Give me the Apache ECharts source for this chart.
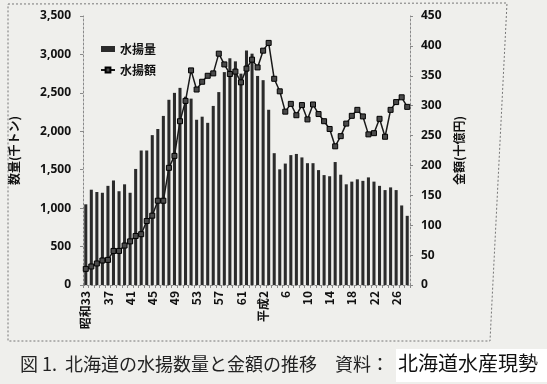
<!DOCTYPE html>
<html>
<head>
<meta charset="utf-8">
<script src="https://cdn.jsdelivr.net/npm/echarts/dist/echarts.min.js"></script>
<style>
html,body{margin:0;padding:0;background:#efefec;}
#chart{width:547px;height:384px;}
</style>
</head>
<body>
<div id="chart"></div>
<script>
// 年 (昭和33=1958 〜 平成28=2016)
const categories = ['昭和33','34','35','36','37','38','39','40','41','42','43','44','45','46','47','48','49','50','51','52','53','54','55','56','57','58','59','60','61','62','63','平成元','平成2','3','4','5','6','7','8','9','10','11','12','13','14','15','16','17','18','19','20','21','22','23','24','25','26','27','28'];
// 水揚量 (千トン)
const volume = [1050,1240,1210,1200,1290,1360,1220,1310,1200,1510,1750,1750,1950,2030,2200,2410,2500,2565,2450,2425,2150,2190,2110,2330,2510,2770,2950,2910,2750,3050,3010,2720,2665,2280,1715,1505,1580,1690,1705,1660,1585,1585,1495,1430,1415,1600,1435,1310,1345,1375,1355,1400,1345,1290,1235,1270,1235,1035,900];
// 水揚額 (十億円)
const amount = [27,31,36,41,42,57,57,66,73,82,85,107,116,141,141,196,216,274,308,359,327,340,350,354,387,369,353,357,339,362,377,364,392,405,345,324,290,303,284,301,277,302,286,274,261,232,249,270,283,293,282,252,254,278,248,293,306,314,298];
// 目盛
const leftTicks = {min:0, max:3500, interval:500};
const rightTicks = {min:0, max:450, interval:50};
const seriesNames = ['水揚量','水揚額'];
const leftName = '数量(千トン)';
const rightName = '金額(十億円)';
const captionMain = '図 1.  北海道の水揚数量と金額の推移　資料：';
const captionSource = '北海道水産現勢';

const chart = echarts.init(document.getElementById('chart'));
const axisCommon = {
  axisLine:{show:true, lineStyle:{color:'#8a8a8a', width:1, type:[2,2]}},
  axisTick:{show:true, lineStyle:{color:'#8a8a8a'}, length:3},
  splitLine:{show:false}
};
const boldFont = "'Noto Sans CJK JP','Noto Sans',sans-serif";
chart.setOption({
  backgroundColor:'#efefec',
  animation:false,
  grid:{left:80, right:137, top:16, bottom:99},
  legend:{
    orient:'vertical', left:95, top:38, itemWidth:14, itemHeight:6, itemGap:9,
    textStyle:{fontFamily:boldFont, fontWeight:'bold', fontSize:12, color:'#111'},
    data:[{name:seriesNames[0], icon:'rect'}, {name:seriesNames[1]}]
  },
  xAxis:{
    type:'category', data:categories, boundaryGap:true,
    ...axisCommon,
    axisTick:{show:true, interval:0, length:3, lineStyle:{color:'#8a8a8a'}},
    axisLabel:{interval:3, rotate:90, margin:6, fontFamily:boldFont, fontWeight:'bold', fontSize:12, color:'#111'}
  },
  yAxis:[
    {type:'value', ...leftTicks, position:'left', ...axisCommon,
     name:leftName, nameLocation:'middle', nameRotate:90, nameGap:63,
     nameTextStyle:{fontFamily:boldFont, fontWeight:'bold', fontSize:12, color:'#111'},
     axisLabel:{margin:12, fontFamily:"'Noto Sans',sans-serif", fontWeight:'bold', fontSize:12, color:'#111',
       formatter:v=>v.toLocaleString('en-US')}},
    {type:'value', ...rightTicks, position:'right', ...axisCommon,
     name:rightName, nameLocation:'middle', nameRotate:90, nameGap:43,
     nameTextStyle:{fontFamily:boldFont, fontWeight:'bold', fontSize:12, color:'#111'},
     axisLabel:{margin:11, fontFamily:"'Noto Sans',sans-serif", fontWeight:'bold', fontSize:12, color:'#111'}}
  ],
  series:[
    {name:seriesNames[0], type:'bar', data:volume, yAxisIndex:0, barWidth:'55%',
     itemStyle:{color:'#2b2b2b'}},
    {name:seriesNames[1], type:'line', data:amount, yAxisIndex:1, symbol:'rect', symbolSize:5,
     showAllSymbol:true,
     lineStyle:{color:'#1a1a1a', width:1.5},
     itemStyle:{color:'#4a4a4a', borderColor:'#000', borderWidth:1}}
  ],
  graphic:[
    {type:'polygon', shape:{points:[[8,4],[507,3],[490,341],[8,341]]}, silent:true,
     style:{fill:'none', stroke:'#777', lineWidth:1, lineDash:[2,2]}},
    {type:'rect', shape:{x:396, y:349, width:151, height:33}, style:{fill:'#ffffff'}, silent:true},
    {type:'text', left:20, top:355, silent:true,
     style:{text:captionMain, font:"18px 'Noto Sans CJK JP',sans-serif", fill:'#222'}},
    {type:'text', left:398, top:353, silent:true,
     style:{text:captionSource, font:"20px 'Noto Sans CJK JP',sans-serif", fill:'#111'}}
  ]
});
</script>
</body>
</html>
